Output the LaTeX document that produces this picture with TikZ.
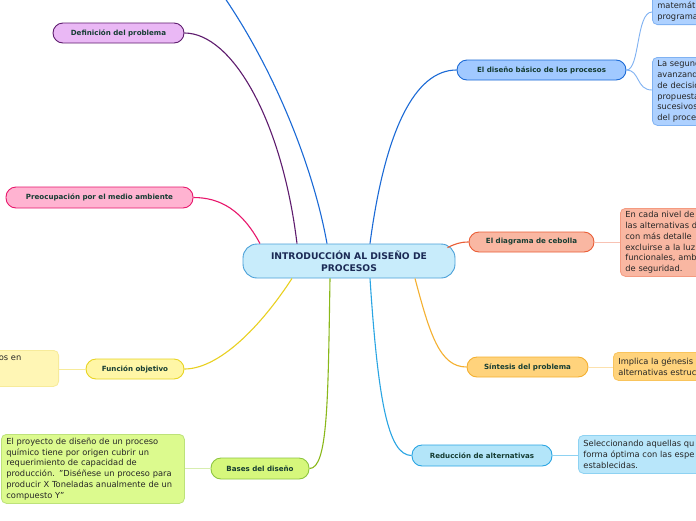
\documentclass[tikz,border=0pt]{standalone}
\usepackage{fontspec}
\setmainfont{DejaVu Sans}
\usetikzlibrary{calc}
\definecolor{txt}{HTML}{163D33}
\definecolor{ctxt}{HTML}{1B2A55}
\definecolor{cfill}{HTML}{C8ECFB}\definecolor{cdraw}{HTML}{4AA0D8}
\definecolor{pufill}{HTML}{EAB8F5}\definecolor{pudraw}{HTML}{5E1C6E}
\definecolor{pifill}{HTML}{FFB3D1}\definecolor{pidraw}{HTML}{E8176C}
\definecolor{yefill}{HTML}{FFF6A6}\definecolor{yedraw}{HTML}{E8D422}\definecolor{yecfill}{HTML}{FFF6B5}\definecolor{yecdraw}{HTML}{F7EB9A}
\definecolor{grfill}{HTML}{D6F77C}\definecolor{grdraw}{HTML}{8DC63F}\definecolor{grline}{HTML}{8AB81A}\definecolor{grcfill}{HTML}{DCFA8E}\definecolor{grcdraw}{HTML}{BDE27A}
\definecolor{blfill}{HTML}{A1C9FF}\definecolor{bldraw}{HTML}{1B6AD6}\definecolor{blcfill}{HTML}{AED1FF}\definecolor{blcdraw}{HTML}{80B2F2}
\definecolor{orfill}{HTML}{F9B7A2}\definecolor{ordraw}{HTML}{EA5E37}\definecolor{orcdraw}{HTML}{F49A80}
\definecolor{sifill}{HTML}{FFD37C}\definecolor{sidraw}{HTML}{F4B030}\definecolor{sicdraw}{HTML}{F9C45C}
\definecolor{refill}{HTML}{B3E5F9}\definecolor{redraw}{HTML}{2AA5E3}\definecolor{recfill}{HTML}{B8E6FA}\definecolor{recdraw}{HTML}{8ED2F2}
\tikzset{
  branch/.style={rounded corners=10pt, draw, line width=0.9pt, font=\bfseries\fontsize{7.1}{8}\selectfont, text=txt, minimum height=20pt, inner sep=0pt},
  childbox/.style={rounded corners=5pt, draw, line width=0.8pt, font=\fontsize{8.3}{10.7}\selectfont, text=black!85, align=left, inner xsep=5pt, inner ysep=0pt, anchor=north west},
  conn/.style={line width=1.1pt},
  cconn/.style={line width=0.9pt}
}
\begin{document}
\begin{tikzpicture}[x=1pt,y=-1pt]
\useasboundingbox (0,0) rectangle (696,520);
\clip (0,0) rectangle (696,520);
\fill[white] (0,0) rectangle (696,520);
% central
\node[rounded corners=14pt, draw=cdraw, fill=cfill, line width=0.9pt, minimum width=212pt, minimum height=34pt, inner sep=0pt, align=center, text=ctxt, font=\bfseries\fontsize{9.2}{12}\selectfont] (central) at (349,261) {INTRODUCCIÓN AL DISEÑO DE\\PROCESOS};
% branches
\node[branch, draw=pudraw, fill=pufill, minimum width=131pt] (def) at (118.5,33) {Definición del problema};
\node[branch, draw=pidraw, fill=pifill, minimum width=187pt, minimum height=21pt] (pre) at (99.5,197.5) {Preocupación por el medio ambiente};
\node[branch, draw=yedraw, fill=yefill, minimum width=98pt] (fo) at (135,369) {Función objetivo};
\node[branch, draw=grdraw, fill=grfill, minimum width=98pt, minimum height=21pt] (bases) at (260,468.5) {Bases del diseño};
\node[branch, draw=bldraw, fill=blfill, minimum width=169pt] (basico) at (541.5,70) {El diseño básico de los procesos};
\node[branch, draw=ordraw, fill=orfill, minimum width=125pt] (cebolla) at (531.5,242) {El diagrama de cebolla};
\node[branch, draw=sidraw, fill=sifill, minimum width=121pt] (sintesis) at (527.5,367) {Síntesis del problema};
\node[branch, draw=redraw, fill=refill, minimum width=140pt, minimum height=21pt] (reduccion) at (482,455.5) {Reducción de alternativas};
% children
\node[childbox, draw=blcdraw, fill=blcfill, text width=110pt, inner ysep=3.5pt, anchor=south west] (cb1) at (652,25) {\rule{0pt}{30pt}matemático\\programación};
\node[childbox, draw=blcdraw, fill=blcfill, text width=110pt, minimum height=68pt, anchor=north west] (cb2) at (652,57) {La segunda\\avanzando\\de decisión\\propuestas\\sucesivos\\del proceso};
\node[childbox, draw=orcdraw, fill=orfill, text width=110pt, minimum height=68pt] (cc) at (620,208) {En cada nivel de\\las alternativas d\\con más detalle\\excluirse a la luz\\funcionales, amb\\de seguridad.};
\node[childbox, draw=sicdraw, fill=sifill, text width=110pt, minimum height=28pt] (cs) at (613,352) {Implica la génesis\\alternativas estruc};
\node[childbox, draw=recdraw, fill=recfill, text width=150pt, minimum height=38pt] (cr) at (578,435) {Seleccionando aquellas qu\\forma óptima con las espe\\establecidas.};
\node[childbox, draw=grcdraw, fill=grcfill, text width=173pt, minimum height=69pt] (cbase) at (1,434) {El proyecto de diseño de un proceso\\químico tiene por origen cubrir un\\requerimiento de capacidad de\\producción. "Diséñese un proceso para\\producir X Toneladas anualmente de un\\compuesto Y"};
\node[childbox, draw=yecdraw, fill=yecfill, minimum width=100pt, minimum height=36pt, anchor=north east] (cfo) at (59,350) {};
\node[anchor=base east, inner sep=0pt, font=\fontsize{8.3}{10.7}\selectfont, text=black!85] (cfotext) at (21.5,360.5) {os en};
% connectors
\coordinate (topend) at (212,-20);
\draw[conn, color=bldraw] ($(central.north)+(-22,0)$) .. controls (312,160) and (268,55) .. (topend);
\draw[conn, color=pudraw] ($(central.north)+(-52,0)$) .. controls (282,120) and (232,33) .. (def.east);
\draw[conn, color=pidraw] ($(central.north)+(-89,0)$) .. controls (242,210) and (220,197.5) .. (pre.east);
\draw[conn, color=yedraw!95!orange] ($(central.south)+(-57,0)$) .. controls (255,335) and (215,369) .. (fo.east);
\draw[conn, color=grline] ($(central.south)+(-19,0)$) .. controls (328,400) and (328,468.5) .. (bases.east);
\draw[conn, color=bldraw] ($(central.north)+(21,0)$) .. controls (385,130) and (415,70) .. (basico.west);
\draw[conn, color=ordraw] ($(central.north east)+(-8,4)$) .. controls (455,244) and (460,242) .. (cebolla.west);
\draw[conn, color=sidraw] ($(central.south)+(66,0)$) .. controls (430,335) and (440,367) .. (sintesis.west);
\draw[conn, color=redraw] ($(central.south)+(21,0)$) .. controls (378,400) and (388,455.5) .. (reduccion.west);
\draw[cconn, color=blcdraw] (basico.east) .. controls (640,70) and (636,12) .. (cb1.south west |- 0,12);
\draw[cconn, color=blcdraw] (basico.east) .. controls (640,70) and (636,90) .. (cb2.north west |- 0,90);
\draw[cconn, color=orcdraw!60!white] (cebolla.east) -- (cc.west |- cebolla.east);
\draw[cconn, color=sicdraw!50!white] (sintesis.east) -- (cs.west |- sintesis.east);
\draw[cconn, color=recdraw] (reduccion.east) -- (cr.west |- reduccion.east);
\draw[cconn, color=grcdraw!60!white] (bases.west) -- (cbase.east |- bases.west);
\draw[cconn, color=yecdraw] (fo.west) -- (cfo.east |- fo.west);
\end{tikzpicture}
\end{document}
